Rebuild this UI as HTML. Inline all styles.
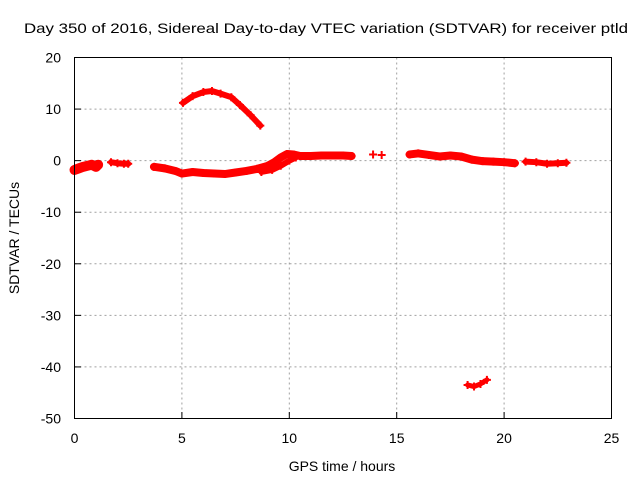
<!DOCTYPE html>
<html><head><meta charset="utf-8"><style>body{margin:0;background:#fff}svg{display:block;font-family:"Liberation Sans","DejaVu Sans",sans-serif}</style></head>
<body>
<svg id="chart" width="640" height="480" viewBox="0 0 640 480">
<rect width="640" height="480" fill="#fff"/>
<text x="326" y="33" font-size="14" text-anchor="middle" textLength="604" lengthAdjust="spacingAndGlyphs">Day 350 of 2016, Sidereal Day-to-day VTEC variation (SDTVAR) for receiver ptld</text>
<g id="grid"></g>
<g id="ticks"></g>
<g id="marks"></g>
<rect x="74.5" y="57.5" width="537" height="361" fill="none" stroke="#000" stroke-width="1"/>
<text transform="translate(19,238) rotate(-90)" font-size="14" text-anchor="middle">SDTVAR / TECUs</text>
<text x="342" y="471" font-size="14" text-anchor="middle">GPS time / hours</text>
</svg>
<script>
const xTicks=[0,5,10,15,20,25];
const yTicks=[20,10,0,-10,-20,-30,-40,-50];
const segA=[[0,-1.8],[0.2,-1.5],[0.4,-1.2],[0.6,-1.0],[0.8,-0.8],[1.0,-1.2],[1.1,-0.8]];
const segB=[[1.7,-0.3],[2.0,-0.5],[2.3,-0.6],[2.5,-0.6]];
const segC=[[3.7,-1.2],[4.2,-1.5],[4.7,-2.0],[5.0,-2.5],[5.5,-2.2],[6.0,-2.4],[6.5,-2.5],[7.0,-2.6],[7.5,-2.3],[8.0,-2.0],[8.5,-1.6],[9.0,-1.0],[9.3,-0.3],[9.6,0.6],[9.9,1.3],[10.2,1.2],[10.5,0.9],[11.0,0.9],[11.5,1.0],[12.0,1.0],[12.5,1.0],[12.9,0.9]];
const segC2=[[8.7,-2.2],[9.2,-1.8],[9.6,-1.0],[10.0,0.0],[10.3,0.6]];
const segArc=[[5.05,11.2],[5.5,12.5],[6.0,13.3],[6.4,13.5],[6.8,13.0],[7.3,12.3],[7.7,10.8],[8.2,8.8],[8.65,6.8]];
const segDots=[[13.9,1.2],[14.3,1.1]];
const segD=[[15.6,1.2],[16.0,1.4],[16.5,1.1],[17.0,0.8],[17.5,1.0],[18.0,0.8],[18.5,0.2],[19.0,-0.1],[19.5,-0.2],[20.0,-0.3],[20.5,-0.5]];
const segE=[[21.0,-0.2],[21.5,-0.3],[22.0,-0.6],[22.5,-0.5],[22.9,-0.4]];
const segLow=[[18.3,-43.5],[18.6,-43.8],[18.9,-43.3],[19.2,-42.5]];
const segments=[segA,segB,segC,segC2,segArc,segDots,segD,segE,segLow];
const widths=[10,6,8,6,6,0,8,6,5];
const NS='http://www.w3.org/2000/svg';
const X=t=>74.5+t*(537/25);
const Y=v=>57.5+(20-v)*(361/70);
const grid=document.getElementById('grid'),ticks=document.getElementById('ticks'),marks=document.getElementById('marks');
function mk(tag,a,p){const e=document.createElementNS(NS,tag);for(const k in a)e.setAttribute(k,a[k]);p.appendChild(e);return e;}
xTicks.forEach(t=>{
  if(t>0&&t<25){const g=mk('line',{x1:X(t),x2:X(t),y1:57.5,y2:418.5,stroke:'#a0a0a0','stroke-dasharray':'2,3'},grid);
  
  }
  const l=mk('line',{x1:X(t),x2:X(t),y1:418.5,y2:412,stroke:'#000'},ticks);
  
  
  const tx=mk('text',{x:X(t),y:443,'font-size':14,'text-anchor':'middle'},ticks);tx.textContent=t;
  
  
});
yTicks.forEach(v=>{
  if(v<20&&v>-50){const g=mk('line',{x1:74.5,x2:611.5,y1:Y(v),y2:Y(v),stroke:'#a0a0a0','stroke-dasharray':'2,3'},grid);
  
  }
  const l=mk('line',{x1:74.5,x2:81,y1:Y(v),y2:Y(v),stroke:'#000'},ticks);
  
  
  const tx=mk('text',{x:61,y:Y(v)+5,'font-size':14,'text-anchor':'end'},ticks);tx.textContent=v;
  
  
});
segments.forEach((s,i)=>{
  if(widths[i]>0){const pl=mk('polyline',{points:s.map(p=>X(p[0])+','+Y(p[1])).join(' '),fill:'none',stroke:'#f00','stroke-width':widths[i],'stroke-linejoin':'round','stroke-linecap':'round'},marks);
  
  }
  s.forEach(p=>{const x=X(p[0]),y=Y(p[1]);
    const m=mk('path',{d:`M${x-4},${y}H${x+4}M${x},${y-4}V${y+4}`,stroke:'#f00','stroke-width':2},marks);
    
    
  });
});
</script>
</body></html>
